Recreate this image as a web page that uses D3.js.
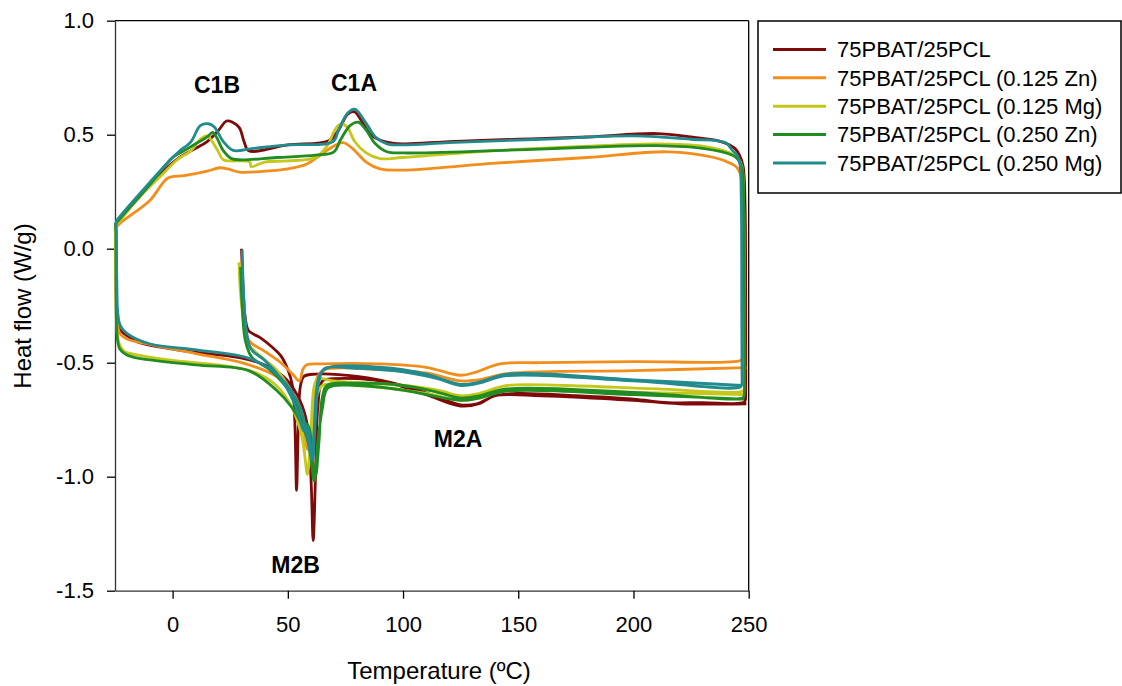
<!DOCTYPE html>
<html>
<head>
<meta charset="utf-8">
<script src="https://cdn.jsdelivr.net/npm/d3@7"></script>
<style>
  body { margin: 0; background: #fff; }
  text { font-family: "Liberation Sans", Arial, sans-serif; fill: #000; }
</style>
</head>
<body>
<div id="chart"></div>
<script>
var svgWidth = 1122;
var svgHeight = 686;

var margin = { top: 20.7, right: 373.3, bottom: 95.3, left: 115 };
var width = svgWidth - margin.left - margin.right;
var height = svgHeight - margin.top - margin.bottom;

// series names and colours
var seriesNames = ["75PBAT/25PCL", "75PBAT/25PCL (0.125 Zn)", "75PBAT/25PCL (0.125 Mg)",
  "75PBAT/25PCL (0.250 Zn)", "75PBAT/25PCL (0.250 Mg)"];
var seriesColors = ["#7f0a0a", "#f28e1c", "#c5c81b", "#218c21", "#218b8e"];

var xTicks = [0, 50, 100, 150, 200, 250];
var yTicks = [-1.5, -1.0, -0.5, 0.0, 0.5, 1.0];

// [temperature, heat flow] : 1st heating -> cooling -> 2nd heating
var pbat = [[29.9, 0.00], [30.5, -0.15], [31.5, -0.30], [33, -0.36], [38, -0.39], [43, -0.43], [47, -0.47],
  [50, -0.53], [52, -0.60], [53, -0.75], [53.8, -1.06], [54.5, -0.8], [55.5, -0.6], [57, -0.56], [62, -0.55],
  [80, -0.56], [100, -0.60], [115, -0.65], [125, -0.685], [132, -0.68], [140, -0.645], [150, -0.635],
  [175, -0.645], [200, -0.66], [215, -0.675], [230, -0.675], [247.8, -0.675], [248.5, -0.665], [248.7, -0.62],
  [248.7, -0.3], [248.4, 0.2], [247.6, 0.36], [246, 0.41], [244, 0.44], [238, 0.47], [225, 0.49], [210, 0.505], [180, 0.49],
  [150, 0.48], [120, 0.47], [100, 0.46], [92, 0.47], [86, 0.50], [82, 0.56], [79, 0.60], [76, 0.59], [72, 0.52],
  [68, 0.475], [50, 0.455], [33, 0.43], [31, 0.47], [29, 0.53], [26, 0.555], [23.4, 0.56], [20, 0.52], [15, 0.47],
  [10, 0.44], [3, 0.40], [-5, 0.33], [-15, 0.22], [-23, 0.13], [-24.6, 0.11],
  [-24.6, 0.07], [-24.4, -0.2], [-24, -0.31], [-23, -0.355], [-20, -0.38], [-15, -0.41], [0, -0.44], [15, -0.46],
  [30, -0.48], [40, -0.51], [48, -0.56], [54, -0.64], [58, -0.75], [60, -1.0], [61, -1.28], [62, -1.0], [63, -0.7],
  [65, -0.58], [70, -0.57], [90, -0.58], [110, -0.64], [125, -0.69], [133, -0.68], [140, -0.645], [160, -0.645],
  [200, -0.665], [220, -0.68], [249, -0.68]];

var zn125 = [[30, -0.05], [31, -0.25], [33, -0.40], [40, -0.45], [47, -0.50], [52, -0.55], [55, -0.58],
  [56.5, -0.53], [58, -0.51], [65, -0.505], [90, -0.505], [110, -0.52], [125, -0.555], [132, -0.54],
  [142, -0.505], [160, -0.50], [200, -0.495], [246.5, -0.49], [247.2, -0.48], [247.5, -0.44],
  [247.5, -0.2], [247.3, 0.2], [246.6, 0.32], [245, 0.355], [242, 0.375], [235, 0.40], [215, 0.425], [180, 0.40], [140, 0.375],
  [100, 0.345], [90, 0.35], [84, 0.38], [78, 0.44], [74, 0.465], [70, 0.45], [64, 0.41], [58, 0.37], [50, 0.35],
  [40, 0.34], [29, 0.336], [24, 0.35], [20.5, 0.355], [15, 0.34], [5, 0.32], [-2, 0.31], [-10, 0.21], [-23, 0.11], [-24.7, 0.09],
  [-24.7, 0.05], [-24.5, -0.2], [-24.1, -0.31], [-23, -0.37], [-20, -0.395], [-10, -0.42], [10, -0.46], [30, -0.50],
  [45, -0.56], [52, -0.63], [56, -0.72], [58.5, -0.88], [60, -0.82], [61.5, -0.65], [63, -0.56], [66, -0.53],
  [90, -0.53], [110, -0.545], [125, -0.58], [133, -0.575], [145, -0.548], [200, -0.535], [249, -0.522]];

var mg125 = [[28.8, -0.06], [29.5, -0.2], [31, -0.33], [33, -0.42], [38, -0.47], [45, -0.53], [50, -0.6],
  [54, -0.7], [56.5, -0.82], [57.5, -0.92], [58.5, -0.99], [60, -0.8], [61.5, -0.6], [63, -0.57], [70, -0.58],
  [100, -0.60], [115, -0.62], [125, -0.645], [133, -0.635], [145, -0.60], [170, -0.60], [210, -0.615],
  [247.4, -0.625], [248, -0.615], [248.2, -0.58],
  [248.2, -0.3], [247.8, 0.2], [247.1, 0.36], [245.5, 0.395], [242, 0.42], [230, 0.45], [210, 0.46], [180, 0.45], [140, 0.43],
  [100, 0.40], [90, 0.395], [84, 0.42], [79, 0.47], [76, 0.53], [73.5, 0.548], [71, 0.53], [67, 0.45], [62, 0.40],
  [50, 0.385], [40, 0.38], [34, 0.36], [33.5, 0.38], [25, 0.385], [22, 0.39], [19, 0.44], [15, 0.495], [12, 0.48],
  [8, 0.43], [2, 0.39], [-5, 0.32], [-15, 0.22], [-23, 0.12], [-24.8, 0.10],
  [-24.8, 0.06], [-24.8, -0.1], [-24.4, -0.3], [-23.4, -0.41], [-21, -0.45], [-18, -0.46], [0, -0.49], [20, -0.51],
  [35, -0.54], [45, -0.60], [52, -0.70], [56, -0.82], [58.5, -0.97], [60.5, -0.86], [62.5, -0.65], [65, -0.6],
  [80, -0.6], [110, -0.635], [125, -0.665], [133, -0.655], [145, -0.62], [200, -0.63], [248, -0.64]];

var zn250 = [[29.5, -0.08], [30.2, -0.25], [31.5, -0.40], [34.3, -0.475], [42, -0.53], [48, -0.59], [53, -0.66],
  [56, -0.75], [59, -0.78], [61, -0.95], [62, -1.0], [63.5, -0.85], [65, -0.65], [67, -0.60], [80, -0.59],
  [100, -0.6], [115, -0.63], [125, -0.655], [133, -0.645], [145, -0.615], [200, -0.63],
  [247.4, -0.655], [248, -0.645], [248.2, -0.6],
  [248.2, -0.3], [247.8, 0.2], [247.2, 0.35], [245.5, 0.39], [243, 0.41], [230, 0.44], [210, 0.452], [180, 0.445], [140, 0.43],
  [100, 0.42], [93, 0.425], [88, 0.46], [84, 0.52], [80.5, 0.555], [77, 0.54], [73, 0.48], [70, 0.425], [62, 0.41],
  [45, 0.40], [30, 0.39], [25.6, 0.395], [22, 0.43], [19, 0.49], [17.3, 0.51], [15, 0.49], [10, 0.46], [5, 0.43],
  [0, 0.40], [-10, 0.28], [-23, 0.13], [-24.6, 0.11],
  [-24.6, 0.07], [-24.5, -0.2], [-24.1, -0.38], [-22.9, -0.44], [-20, -0.465], [-15, -0.48], [10, -0.51], [33, -0.535],
  [45, -0.62], [52, -0.7], [56, -0.77], [59, -0.85], [61.5, -1.02], [63, -0.85], [65, -0.7], [67.5, -0.61],
  [80, -0.6], [100, -0.62], [125, -0.665], [133, -0.655], [145, -0.625], [200, -0.64], [248, -0.66]];

var mg250 = [[30.2, -0.005], [30.8, -0.2], [32, -0.36], [34, -0.44], [40, -0.49], [47, -0.57], [52, -0.66],
  [55, -0.74], [57, -0.80], [58.5, -0.78], [60, -0.9], [60.7, -0.93], [62, -0.75], [63.5, -0.58], [66, -0.525],
  [80, -0.525], [100, -0.54], [115, -0.57], [125, -0.60], [133, -0.59], [145, -0.557], [200, -0.58],
  [246.4, -0.607], [247, -0.595], [247.1, -0.55],
  [247, -0.3], [246.8, 0.2], [246.2, 0.37], [245, 0.41], [243, 0.43], [240, 0.465], [225, 0.48], [200, 0.495], [160, 0.48],
  [120, 0.465], [100, 0.455], [93, 0.46], [88, 0.49], [84, 0.55], [79, 0.612], [76, 0.595], [72, 0.52],
  [69.6, 0.47], [50, 0.455], [35, 0.44], [26.3, 0.431], [22, 0.47], [18, 0.535], [15.5, 0.548], [12, 0.54],
  [8, 0.47], [3, 0.428], [0, 0.40], [-10, 0.29], [-23, 0.14], [-24.4, 0.12],
  [-24.4, 0.08], [-24.2, -0.15], [-23.8, -0.28], [-22.8, -0.335], [-20, -0.37], [-10, -0.417], [12, -0.446],
  [33.5, -0.482], [46.6, -0.563], [55.3, -0.695], [58, -0.80], [60, -0.9], [61, -0.85], [62.5, -0.62], [64, -0.55],
  [68, -0.52], [90, -0.52], [110, -0.55], [125, -0.595], [133, -0.585], [145, -0.55], [200, -0.575], [247, -0.6]];

var seriesData = [pbat, zn125, mg125, zn250, mg250];

// peak labels
var peakLabels = [
  { text: "C1B", x: 217, y: 93.3 },
  { text: "C1A", x: 354, y: 90.7 },
  { text: "M2B", x: 295.5, y: 573 },
  { text: "M2A", x: 458, y: 447 }
];

var svg = d3.select("#chart")
  .append("svg")
  .attr("width", svgWidth)
  .attr("height", svgHeight);

svg.append("rect")
  .attr("width", svgWidth)
  .attr("height", svgHeight)
  .attr("fill", "#fff");

var chartGroup = svg.append("g")
  .attr("transform", `translate(${margin.left}, ${margin.top})`);

var xLinearScale = d3.scaleLinear().domain([-25, 250]).range([0, width]);
var yLinearScale = d3.scaleLinear().domain([-1.5, 1.0]).range([height, 0]);

// frame (top and right)
chartGroup.append("line")
  .attr("x1", 0).attr("x2", width).attr("y1", 0).attr("y2", 0)
  .attr("stroke", "#000").attr("stroke-width", 1.3);
chartGroup.append("line")
  .attr("x1", width).attr("x2", width).attr("y1", 0).attr("y2", height)
  .attr("stroke", "#000").attr("stroke-width", 1.3);

// axes
var bottomAxis = d3.axisBottom(xLinearScale)
  .tickValues(xTicks)
  .tickSize(8)
  .tickSizeOuter(0)
  .tickPadding(18);

var leftAxis = d3.axisLeft(yLinearScale)
  .tickValues(yTicks)
  .tickFormat(d => d.toFixed(1))
  .tickSize(8)
  .tickSizeOuter(0)
  .tickPadding(13);

var xAxisG = chartGroup.append("g")
  .attr("transform", `translate(0, ${height})`)
  .call(bottomAxis);

var yAxisG = chartGroup.append("g")
  .call(leftAxis);

[xAxisG, yAxisG].forEach(function(g) {
  g.selectAll("text")
    .style("font-size", "22px")
    .style("font-family", "'Liberation Sans', Arial, sans-serif")
    .attr("fill", "#000");
  g.select(".domain").attr("stroke", "#333").attr("stroke-width", 1.3);
  g.selectAll(".tick line").attr("stroke", "#000").attr("stroke-width", 1.3);
});

// curves, clipped a little outside the plot area
chartGroup.append("clipPath")
  .attr("id", "plot-clip")
  .append("rect")
  .attr("x", -2)
  .attr("y", 0)
  .attr("width", width + 2)
  .attr("height", height);

var lineGen = d3.line()
  .x(d => xLinearScale(d[0]))
  .y(d => yLinearScale(d[1]))
  .curve(d3.curveCatmullRom.alpha(0.5));

chartGroup.append("g")
  .attr("clip-path", "url(#plot-clip)")
  .selectAll(".curve")
  .data(seriesData)
  .enter()
  .append("path")
  .attr("class", "curve")
  .attr("d", lineGen)
  .attr("fill", "none")
  .attr("stroke", (d, i) => seriesColors[i])
  .attr("stroke-width", 2.8)
  .attr("stroke-linejoin", "round");

// peak labels
svg.selectAll(".peak")
  .data(peakLabels)
  .enter()
  .append("text")
  .attr("class", "peak")
  .attr("x", d => d.x)
  .attr("y", d => d.y)
  .attr("text-anchor", "middle")
  .style("font-size", "23px")
  .style("font-weight", "bold")
  .text(d => d.text);

// axis titles
svg.append("text")
  .attr("x", 439)
  .attr("y", 679)
  .attr("text-anchor", "middle")
  .style("font-size", "24px")
  .text("Temperature (ºC)");

svg.append("text")
  .attr("transform", "translate(31, 306) rotate(-90)")
  .attr("text-anchor", "middle")
  .style("font-size", "24px")
  .text("Heat flow (W/g)");

// legend
var legend = svg.append("g");

legend.append("rect")
  .attr("x", 758)
  .attr("y", 21)
  .attr("width", 363)
  .attr("height", 172)
  .attr("fill", "#fff")
  .attr("stroke", "#000")
  .attr("stroke-width", 1.5);

var legendRows = [49.5, 77.8, 106.2, 134.6, 163];

var legendItem = legend.selectAll(".legend-item")
  .data(seriesNames)
  .enter()
  .append("g")
  .attr("class", "legend-item")
  .attr("transform", (d, i) => `translate(0, ${legendRows[i]})`);

legendItem.append("line")
  .attr("x1", 773)
  .attr("x2", 826)
  .attr("stroke", (d, i) => seriesColors[i])
  .attr("stroke-width", 3);

legendItem.append("text")
  .attr("x", 837)
  .attr("dy", "0.35em")
  .style("font-size", "22px")
  .text(d => d);
</script>
</body>
</html>
